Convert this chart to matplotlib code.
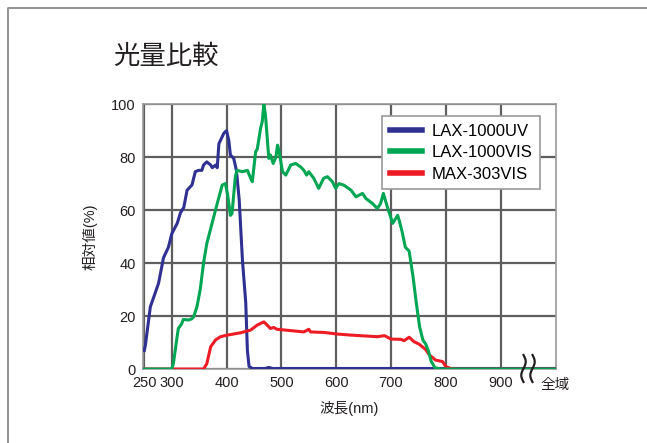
import numpy as np
import matplotlib
matplotlib.use("Agg")
import matplotlib.pyplot as plt
from matplotlib.lines import Line2D

plt.rcParams["font.family"] = ["Liberation Sans", "Noto Sans CJK JP", "DejaVu Sans"]

# ── データ ──
uv_nm = [250, 252, 261, 267, 276, 285, 294, 300, 310, 316, 322, 328, 337, 343, 349,
         355, 358, 364, 371, 374, 380, 383, 386, 395, 400, 404, 407, 413, 418, 423,
         429, 435, 438, 441, 447, 470, 477, 484, 1000]
uv_val = [7, 9, 23.5, 27, 32.4, 42, 46, 51, 55, 59, 61, 67.5, 69.5, 74.5, 75,
          75, 77, 78.2, 77, 76, 77, 76, 85, 89, 90, 86.4, 80.8, 79.5, 75, 64,
          41, 25, 7, 1, 0.2, 0.2, 0.6, 0.2, 0.2]

vis_nm = [250, 300, 303, 309, 312, 318, 321, 331, 337, 340, 346, 352, 358, 364, 371,
          383, 392, 398, 402, 407, 410, 416, 419, 429, 438, 444, 447, 453, 456, 462,
          465, 468, 471, 477, 480, 485, 490, 493, 496, 502, 508, 517, 526, 535, 541,
          546, 550, 559, 568, 577, 584, 593, 599, 605, 614, 627, 636, 648, 654, 666,
          675, 681, 686, 693, 703, 712, 715, 720, 726, 733, 740, 746, 752, 758, 763,
          768, 773, 780, 790, 1000]
vis_val = [0, 0, 2, 11, 15.3, 17, 18.7, 18.5, 19, 19.7, 23.5, 30, 40, 47.4, 53,
           62.5, 69.4, 70, 65.7, 58, 58.7, 72.6, 75, 74.5, 75, 72, 70.7, 82, 83, 90.8,
           93.3, 100, 95.8, 79.5, 80.8, 77.6, 80, 84.5, 82, 74.5, 73.2, 77, 77.6, 76.3, 75,
           73.2, 74.5, 72, 68.2, 72, 72.6, 70.7, 68.2, 70, 69.4, 67.5, 65, 66.3, 64.4, 62.5,
           60.6, 62.5, 66.3, 61.3, 55, 58, 56, 52, 46, 44.5, 35, 25, 16, 11, 9.5,
           7, 3, 0.5, 0, 0]

max_nm = [250, 358, 364, 371, 380, 389, 401, 407, 426, 444, 456, 468, 474, 480, 486,
          492, 517, 541, 550, 553, 578, 602, 627, 651, 675, 688, 700, 718, 724, 733,
          742, 751, 757, 763, 770, 781, 794, 800, 809, 820, 1000]
max_val = [0, 0, 2, 8.4, 11, 12.2, 12.8, 13, 13.7, 14.7, 16.6, 17.8, 16.6, 15.3, 15.7,
           15, 14.5, 14, 15, 14, 13.8, 13.2, 12.8, 12.5, 12.2, 12.6, 11.3, 11.2, 10.7, 12,
           10.3, 9.4, 8.4, 7.4, 5.3, 3.4, 2.8, 0.9, 0.2, 0, 0]

x_ticks = [250, 300, 400, 500, 600, 700, 800, 900]
y_ticks = [0, 20, 40, 60, 80, 100]

BLUE = "#2e3192"
GREEN = "#00a651"
RED = "#ed1c24"
GRID = "#5e5e5e"

fig = plt.figure(figsize=(6.47, 4.43), dpi=100)
ax = fig.add_axes([0.2205, 0.167, 0.639, 0.598])

ax.plot(uv_nm, uv_val, color=BLUE, lw=2.2, label="LAX-1000UV", zorder=3)
ax.plot(max_nm, max_val, color=RED, lw=2.2, label="MAX-303VIS", zorder=4)
ax.plot(vis_nm, vis_val, color=GREEN, lw=2.2, label="LAX-1000VIS", zorder=5)

ax.set_xlim(247, 1001)
ax.set_ylim(0, 100)
ax.set_xticks(x_ticks)
ax.set_yticks(y_ticks)
ax.tick_params(length=0, labelsize=10.5, colors="#231f20", pad=5)
ax.grid(True, color=GRID, lw=1.6, zorder=1)
ax.set_axisbelow(True)
for s in ax.spines.values():
    s.set_color("#9a9a9a")
    s.set_linewidth(1.2)

ax.set_xlabel("波長(nm)", fontsize=10.5, color="#231f20", labelpad=8)
ax.set_ylabel("相対値(%)", fontsize=10.5, color="#231f20", labelpad=10)

handles, labels = ax.get_legend_handles_labels()
order = [0, 2, 1]
leg = ax.legend([handles[i] for i in order], [labels[i] for i in order],
                loc="upper left", bbox_to_anchor=(0.58, 0.955), fontsize=12,
                fancybox=False, framealpha=1, edgecolor="#9a9a9a",
                handlelength=1.9, handletextpad=0.6, labelspacing=0.4,
                borderpad=0.45, borderaxespad=0)
leg.get_frame().set_linewidth(1.2)
for line in leg.get_lines():
    line.set_linewidth(4)

# 「全域」ラベルと省略記号
ax.text(1000, -3.5, "全域", ha="center", va="top", fontsize=10.5, color="#231f20")
t = np.linspace(0, 1, 40)
for x0 in [523.5, 532.5]:
    xs = (x0 + 2.2 * np.sin(t * 2 * np.pi)) / 647
    ys = 1 - (355 + 27 * t) / 443
    fig.add_artist(Line2D(xs, ys, color="#231f20", lw=1.6))

# タイトル
fig.text(113 / 647, 1 - 56 / 443, "光量比較", fontsize=19, ha="left", va="center",
         color="#231f20", family=["Noto Sans CJK JP"])

# 外枠
fig.add_artist(Line2D([8 / 647, 8 / 647, 1.0], [0.0, 1 - 8 / 443, 1 - 8 / 443],
                      color="#8a8a8a", lw=1.3))

fig.savefig("out.png", dpi=100, facecolor="white")
